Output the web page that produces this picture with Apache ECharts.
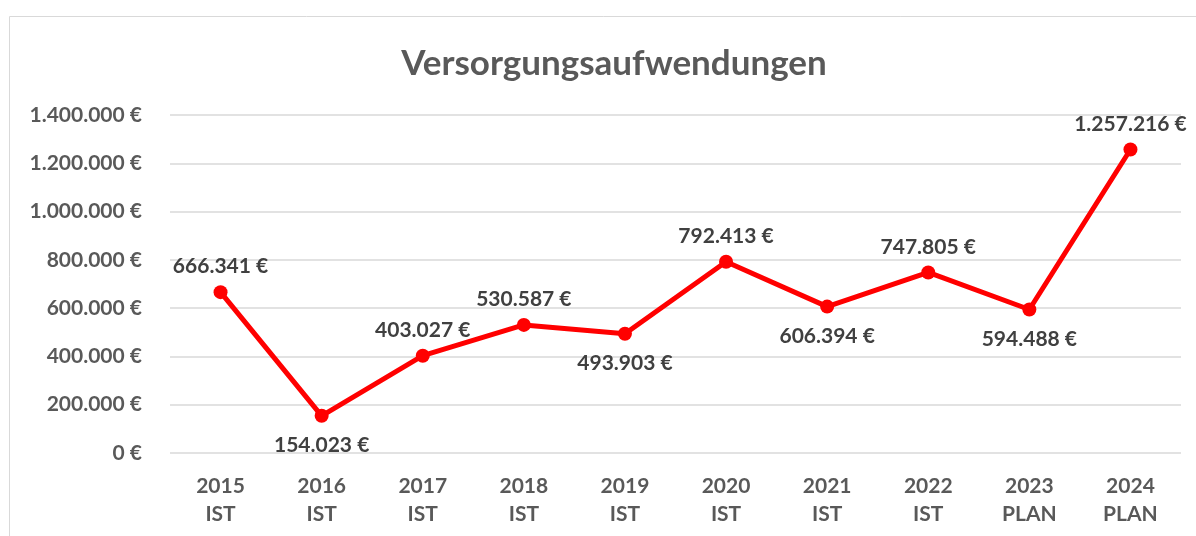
<!DOCTYPE html>
<html>
<head>
<meta charset="utf-8">
<script src="https://cdn.jsdelivr.net/npm/echarts@6/dist/echarts.min.js"></script>
<style>
  html, body { margin: 0; padding: 0; background: #fff; }
  #chart { width: 1196px; height: 536px; }
</style>
</head>
<body>
<div id="chart"></div>
<script>
// data
const years = ['2015', '2016', '2017', '2018', '2019', '2020', '2021', '2022', '2023', '2024']
const kinds = ['IST', 'IST', 'IST', 'IST', 'IST', 'IST', 'IST', 'IST', 'PLAN', 'PLAN']
const values = [666341, 154023, 403027, 530587, 493903, 792413, 606394, 747805, 594488, 1257216]

const FONT = 'Lato, "Open Sans", sans-serif'
const GREY = '#595959'

// 1234567 -> "1.234.567 €"
function euro (v) {
  return String(Math.round(v)).replace(/\B(?=(\d{3})+(?!\d))/g, '.') + ' €'
}

const labelsBelow = [1, 4, 6, 8]

const chart = echarts.init(document.getElementById('chart'))
chart.setOption({
  animation: false,
  title: {
    text: 'Versorgungsaufwendungen',
    left: 609,
    top: 41,
    textAlign: 'center',
    textStyle: {
      color: GREY,
      fontSize: 35,
      fontWeight: 'bold',
      fontFamily: FONT
    }
  },
  graphic: [{
    type: 'rect',
    shape: { x: 9.5, y: 16.5, width: 1300, height: 600 },
    style: { fill: 'none', stroke: '#d9d9d9', lineWidth: 1 },
    silent: true
  }],
  grid: {
    left: 170,
    right: 15,
    top: 115,
    bottom: 83
  },
  xAxis: {
    type: 'category',
    data: years.map((y, i) => y + '\n' + kinds[i]),
    axisLine: { show: false },
    axisTick: { show: false },
    axisLabel: {
      color: GREY,
      fontSize: 21,
      fontWeight: 'bold',
      fontFamily: FONT,
      lineHeight: 28,
      margin: 19,
      interval: 0
    }
  },
  yAxis: {
    type: 'value',
    min: 0,
    max: 1400000,
    interval: 200000,
    axisLine: { show: false },
    axisTick: { show: false },
    splitLine: { lineStyle: { color: '#d9d9d9', width: 1.5 } },
    axisLabel: {
      color: GREY,
      fontSize: 21,
      fontWeight: 'bold',
      fontFamily: FONT,
      margin: 28,
      formatter: euro
    }
  },
  series: [{
    type: 'line',
    data: values.map((v, i) => {
      const below = labelsBelow.includes(i)
      return {
        value: v,
        label: { position: below ? 'bottom' : 'top', distance: below ? 12 : 8 }
      }
    }),
    symbol: 'circle',
    symbolSize: 14,
    lineStyle: { color: '#ff0000', width: 5 },
    itemStyle: { color: '#ff0000' },
    label: {
      show: true,
      color: '#404040',
      fontSize: 21,
      fontWeight: 'bold',
      fontFamily: FONT,
      formatter: p => euro(p.value)
    }
  }]
})
</script>
</body>
</html>
